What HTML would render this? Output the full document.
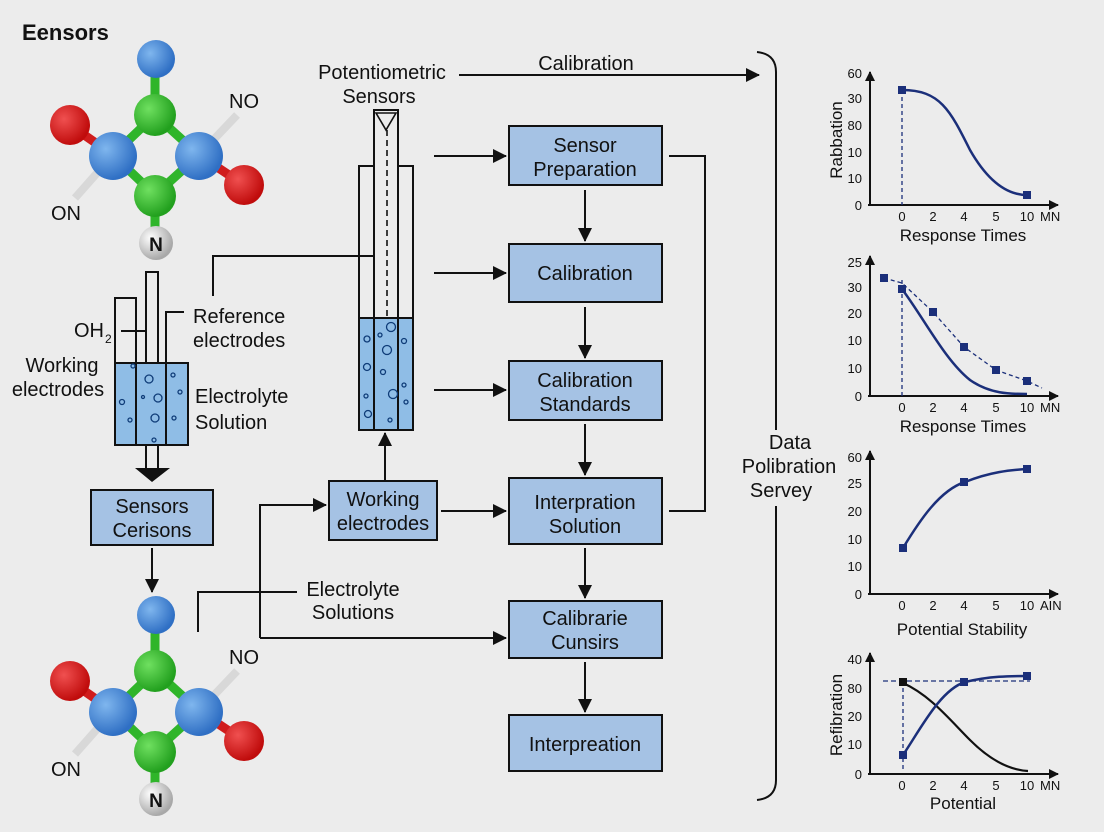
<!DOCTYPE html>
<html><head><meta charset="utf-8"><style>
html,body{margin:0;padding:0;background:#ececec;}
svg{display:block;font-family:"Liberation Sans",sans-serif;}
</style></head><body>
<svg width="1104" height="832" viewBox="0 0 1104 832" xmlns="http://www.w3.org/2000/svg">
<defs>
<marker id="a" markerWidth="10" markerHeight="10" refX="9" refY="5" orient="auto" markerUnits="userSpaceOnUse"><path d="M0,0 L10,5 L0,10Z" fill="#111"/></marker>
<marker id="a2" markerWidth="14" markerHeight="14" refX="13" refY="7" orient="auto" markerUnits="userSpaceOnUse"><path d="M0,0 L14,7 L0,14Z" fill="#111"/></marker>
<radialGradient id="gb" cx="35%" cy="35%" r="65%"><stop offset="0" stop-color="#7fb6ee"/><stop offset="1" stop-color="#2f6fc4"/></radialGradient>
<radialGradient id="gg" cx="35%" cy="35%" r="65%"><stop offset="0" stop-color="#6fe060"/><stop offset="1" stop-color="#22a01e"/></radialGradient>
<radialGradient id="gr" cx="35%" cy="35%" r="65%"><stop offset="0" stop-color="#f05050"/><stop offset="1" stop-color="#c00c0c"/></radialGradient>
<radialGradient id="gw" cx="35%" cy="35%" r="65%"><stop offset="0" stop-color="#ffffff"/><stop offset="1" stop-color="#a8a8a8"/></radialGradient>
<g id="mol">
<line x1="155" y1="58" x2="155" y2="115" stroke="#2fb52a" stroke-width="9"/>
<line x1="155" y1="115" x2="113" y2="155" stroke="#2fb52a" stroke-width="9"/>
<line x1="155" y1="115" x2="199" y2="155" stroke="#2fb52a" stroke-width="9"/>
<line x1="113" y1="155" x2="155" y2="195" stroke="#2fb52a" stroke-width="9"/>
<line x1="199" y1="155" x2="155" y2="195" stroke="#2fb52a" stroke-width="9"/>
<line x1="155" y1="195" x2="155" y2="243" stroke="#2fb52a" stroke-width="9"/>
<line x1="113" y1="155" x2="70" y2="125" stroke="#d01c1c" stroke-width="9"/>
<line x1="199" y1="155" x2="244" y2="185" stroke="#d01c1c" stroke-width="9"/>
<line x1="199" y1="155" x2="237" y2="115" stroke="#d8d8d8" stroke-width="8"/>
<line x1="113" y1="155" x2="75" y2="198" stroke="#d8d8d8" stroke-width="8"/>
<circle cx="156" cy="59" r="19" fill="url(#gb)"/>
<circle cx="70" cy="125" r="20" fill="url(#gr)"/>
<circle cx="244" cy="185" r="20" fill="url(#gr)"/>
<circle cx="155" cy="115" r="21" fill="url(#gg)"/>
<circle cx="155" cy="196" r="21" fill="url(#gg)"/>
<circle cx="113" cy="156" r="24" fill="url(#gb)"/>
<circle cx="199" cy="156" r="24" fill="url(#gb)"/>
<circle cx="156" cy="243" r="17" fill="url(#gw)"/>
<text x="156" y="251" font-size="19" font-weight="bold" text-anchor="middle" fill="#111">N</text>
<text x="244" y="108" font-size="20" text-anchor="middle" fill="#111">NO</text>
<text x="66" y="220" font-size="20" text-anchor="middle" fill="#111">ON</text>
</g>
</defs>

<text x="22" y="40" font-size="22" font-weight="bold" fill="#111">Eensors</text>
<use href="#mol"/>
<use href="#mol" y="556"/>

<g stroke="#111" stroke-width="2" fill="none">
<!-- left electrode -->
<rect x="115" y="298" width="21" height="65"/>
<rect x="146" y="272" width="12" height="91"/>
<polyline points="166,363 166,312 184,312"/>
<line x1="121" y1="331" x2="146" y2="331"/>
<rect x="115" y="363" width="73" height="82" fill="#8fbde6"/>
<line x1="136" y1="363" x2="136" y2="445"/>
<line x1="166" y1="363" x2="166" y2="445"/>
<line x1="146" y1="445" x2="146" y2="468"/>
<line x1="158" y1="445" x2="158" y2="468"/>
<polyline points="213,296 213,256 374,256"/>
<!-- tube -->
<rect x="374" y="110" width="24" height="320"/>
<polyline points="359,430 359,166 374,166"/>
<polyline points="413,430 413,166 398,166"/>
<rect x="359" y="318" width="54" height="112" fill="#8fbde6"/>
<line x1="374" y1="318" x2="374" y2="430"/><line x1="398" y1="318" x2="398" y2="430"/>
<line x1="387" y1="130" x2="387" y2="316" stroke-dasharray="6,4" stroke-width="1.6"/>
<path d="M376,113 L396,113 L386,130Z" stroke-width="1.6"/>
</g>
<path d="M135,468 L170,468 L152,482Z" fill="#111"/>
<g fill="none" stroke="#0f3c78" stroke-width="1.3">
<circle cx="149" cy="379" r="4"/><circle cx="158" cy="398" r="4"/><circle cx="155" cy="418" r="4"/><circle cx="122" cy="402" r="2.5"/><circle cx="133" y="0" cy="366" r="2"/><circle cx="173" cy="375" r="2"/><circle cx="180" cy="392" r="2"/><circle cx="174" cy="418" r="2"/><circle cx="130" cy="420" r="2"/><circle cx="154" cy="440" r="2"/><circle cx="143" cy="397" r="1.5"/>
<circle cx="391" cy="327" r="4.5"/><circle cx="387" cy="350" r="4.5"/><circle cx="393" cy="394" r="4.5"/><circle cx="367" cy="339" r="3"/><circle cx="367" cy="367" r="3.5"/><circle cx="368" cy="414" r="3.5"/><circle cx="404" cy="341" r="2.5"/><circle cx="404" cy="385" r="2"/><circle cx="383" cy="372" r="2.5"/><circle cx="380" cy="335" r="2"/><circle cx="390" cy="420" r="2"/><circle cx="406" cy="402" r="2"/><circle cx="366" cy="396" r="2"/>
</g>

<g font-size="20" fill="#111">
<text x="74" y="337">OH</text><text x="105" y="343" font-size="12">2</text>
<text x="62" y="372" text-anchor="middle">Working</text>
<text x="58" y="396" text-anchor="middle">electrodes</text>
<text x="193" y="323">Reference</text>
<text x="193" y="347">electrodes</text>
<text x="195" y="403">Electrolyte</text>
<text x="195" y="429">Solution</text>
<text x="382" y="79" text-anchor="middle">Potentiometric</text>
<text x="379" y="103" text-anchor="middle">Sensors</text>
<text x="586" y="70" text-anchor="middle">Calibration</text>
<text x="353" y="596" text-anchor="middle">Electrolyte</text>
<text x="353" y="619" text-anchor="middle">Solutions</text>
<text x="790" y="449" text-anchor="middle">Data</text>
<text x="789" y="473" text-anchor="middle">Polibration</text>
<text x="781" y="497" text-anchor="middle">Servey</text>
</g>

<!-- boxes -->
<g stroke="#111" stroke-width="2" fill="#a5c2e4">
<rect x="91" y="490" width="122" height="55"/>
<rect x="329" y="481" width="108" height="59"/>
<rect x="509" y="126" width="153" height="59"/>
<rect x="509" y="244" width="153" height="58"/>
<rect x="509" y="361" width="153" height="59"/>
<rect x="509" y="478" width="153" height="66"/>
<rect x="509" y="601" width="153" height="57"/>
<rect x="509" y="715" width="153" height="56"/>
</g>
<g font-size="20" fill="#111" text-anchor="middle">
<text x="152" y="513">Sensors</text><text x="152" y="537">Cerisons</text>
<text x="383" y="506">Working</text><text x="383" y="530">electrodes</text>
<text x="585" y="152">Sensor</text><text x="585" y="176">Preparation</text>
<text x="585" y="280">Calibration</text>
<text x="585" y="387">Calibration</text><text x="585" y="411">Standards</text>
<text x="585" y="509">Interpration</text><text x="585" y="533">Solution</text>
<text x="585" y="625">Calibrarie</text><text x="585" y="649">Cunsirs</text>
<text x="585" y="751">Interpreation</text>
</g>

<g stroke="#111" stroke-width="2" fill="none">
<line x1="459" y1="75" x2="759" y2="75" marker-end="url(#a2)"/>
<line x1="434" y1="156" x2="506" y2="156" marker-end="url(#a2)"/>
<line x1="434" y1="273" x2="506" y2="273" marker-end="url(#a2)"/>
<line x1="434" y1="390" x2="506" y2="390" marker-end="url(#a2)"/>
<line x1="441" y1="511" x2="506" y2="511" marker-end="url(#a2)"/>
<polyline points="260,638 260,505 326,505" marker-end="url(#a2)"/>
<line x1="260" y1="638" x2="506" y2="638" marker-end="url(#a2)"/>
<polyline points="198,632 198,592 297,592"/>
<line x1="385" y1="480" x2="385" y2="433" marker-end="url(#a2)"/>
<line x1="152" y1="548" x2="152" y2="592" marker-end="url(#a2)"/>
<line x1="585" y1="190" x2="585" y2="241" marker-end="url(#a2)"/>
<line x1="585" y1="307" x2="585" y2="358" marker-end="url(#a2)"/>
<line x1="585" y1="424" x2="585" y2="475" marker-end="url(#a2)"/>
<line x1="585" y1="548" x2="585" y2="598" marker-end="url(#a2)"/>
<line x1="585" y1="662" x2="585" y2="712" marker-end="url(#a2)"/>
<polyline points="669,156 705,156 705,511 669,511"/>
<path d="M757,52 Q776,54 776,72 L776,430"/>
<path d="M776,506 L776,780 Q776,798 757,800"/>
</g>

<!-- charts -->
<g font-size="13" fill="#111">
<!-- chart1 -->
<g stroke="#111" stroke-width="2" fill="none">
<line x1="870" y1="205" x2="870" y2="72" marker-end="url(#a)"/>
<line x1="868" y1="205" x2="1058" y2="205" marker-end="url(#a)"/>
</g>
<text x="862" y="78" text-anchor="end">60</text><text x="862" y="103" text-anchor="end">30</text><text x="862" y="130" text-anchor="end">80</text><text x="862" y="157" text-anchor="end">10</text><text x="862" y="183" text-anchor="end">10</text><text x="862" y="210" text-anchor="end">0</text>
<g text-anchor="middle"><text x="902" y="221">0</text><text x="933" y="221">2</text><text x="964" y="221">4</text><text x="996" y="221">5</text><text x="1027" y="221">10</text></g><text x="1040" y="221">MN</text>
<text x="963" y="241" font-size="17" text-anchor="middle">Response Times</text>
<text transform="translate(842,140) rotate(-90)" font-size="17" text-anchor="middle">Rabbation</text>
<line x1="902" y1="90" x2="902" y2="205" stroke="#1b2f7a" stroke-width="1.3" stroke-dasharray="4,3"/>
<path d="M902,90 C940,90 950,110 970,150 C990,185 1010,195 1027,195" stroke="#1b2f7a" stroke-width="2.5" fill="none"/>
<rect x="898" y="86" width="8" height="8" fill="#1b2f7a"/><rect x="1023" y="191" width="8" height="8" fill="#1b2f7a"/>

<!-- chart2 -->
<g stroke="#111" stroke-width="2" fill="none">
<line x1="870" y1="396" x2="870" y2="256" marker-end="url(#a)"/>
<line x1="868" y1="396" x2="1058" y2="396" marker-end="url(#a)"/>
</g>
<text x="862" y="267" text-anchor="end">25</text><text x="862" y="292" text-anchor="end">30</text><text x="862" y="318" text-anchor="end">20</text><text x="862" y="345" text-anchor="end">10</text><text x="862" y="373" text-anchor="end">10</text><text x="862" y="401" text-anchor="end">0</text>
<g text-anchor="middle"><text x="902" y="412">0</text><text x="933" y="412">2</text><text x="964" y="412">4</text><text x="996" y="412">5</text><text x="1027" y="412">10</text></g><text x="1040" y="412">MN</text>
<text x="963" y="432" font-size="17" text-anchor="middle">Response Times</text>
<line x1="902" y1="280" x2="902" y2="396" stroke="#1b2f7a" stroke-width="1.3" stroke-dasharray="4,3"/>
<path d="M884,278 L902,283 L933,312 L964,347 L996,370 L1027,381 L1042,388" stroke="#1b2f7a" stroke-width="1.3" stroke-dasharray="4,3" fill="none"/>
<path d="M902,289 C925,320 945,360 970,380 C990,394 1010,394 1027,394" stroke="#1b2f7a" stroke-width="2.5" fill="none"/>
<g fill="#1b2f7a"><rect x="880" y="274" width="8" height="8"/><rect x="898" y="285" width="8" height="8"/><rect x="929" y="308" width="8" height="8"/><rect x="960" y="343" width="8" height="8"/><rect x="992" y="366" width="8" height="8"/><rect x="1023" y="377" width="8" height="8"/></g>

<!-- chart3 -->
<g stroke="#111" stroke-width="2" fill="none">
<line x1="870" y1="594" x2="870" y2="451" marker-end="url(#a)"/>
<line x1="868" y1="594" x2="1058" y2="594" marker-end="url(#a)"/>
</g>
<text x="862" y="462" text-anchor="end">60</text><text x="862" y="488" text-anchor="end">25</text><text x="862" y="516" text-anchor="end">20</text><text x="862" y="544" text-anchor="end">10</text><text x="862" y="571" text-anchor="end">10</text><text x="862" y="599" text-anchor="end">0</text>
<g text-anchor="middle"><text x="902" y="610">0</text><text x="933" y="610">2</text><text x="964" y="610">4</text><text x="996" y="610">5</text><text x="1027" y="610">10</text></g><text x="1040" y="610">AIN</text>
<text x="962" y="635" font-size="17" text-anchor="middle">Potential Stability</text>
<path d="M903,548 C920,520 940,490 965,482 C990,472 1010,470 1027,469" stroke="#1b2f7a" stroke-width="2.5" fill="none"/>
<g fill="#1b2f7a"><rect x="899" y="544" width="8" height="8"/><rect x="960" y="478" width="8" height="8"/><rect x="1023" y="465" width="8" height="8"/></g>

<!-- chart4 -->
<g stroke="#111" stroke-width="2" fill="none">
<line x1="870" y1="774" x2="870" y2="653" marker-end="url(#a)"/>
<line x1="868" y1="774" x2="1058" y2="774" marker-end="url(#a)"/>
</g>
<text x="862" y="664" text-anchor="end">40</text><text x="862" y="693" text-anchor="end">80</text><text x="862" y="721" text-anchor="end">20</text><text x="862" y="749" text-anchor="end">10</text><text x="862" y="779" text-anchor="end">0</text>
<g text-anchor="middle"><text x="902" y="790">0</text><text x="933" y="790">2</text><text x="964" y="790">4</text><text x="996" y="790">5</text><text x="1027" y="790">10</text></g><text x="1040" y="790">MN</text>
<text x="963" y="809" font-size="17" text-anchor="middle">Potential</text>
<text transform="translate(842,715) rotate(-90)" font-size="17" text-anchor="middle">Refibration</text>
<line x1="883" y1="681" x2="1030" y2="681" stroke="#1b2f7a" stroke-width="1.3" stroke-dasharray="5,3"/>
<line x1="903" y1="681" x2="903" y2="770" stroke="#1b2f7a" stroke-width="1.3" stroke-dasharray="4,3"/>
<path d="M903,683 C930,695 950,720 970,740 C990,760 1010,770 1028,771" stroke="#111" stroke-width="2.2" fill="none"/>
<path d="M903,755 C920,730 940,690 965,682 C990,676 1010,676 1027,676" stroke="#1b2f7a" stroke-width="2.5" fill="none"/>
<rect x="899" y="678" width="8" height="8" fill="#111"/>
<g fill="#1b2f7a"><rect x="899" y="751" width="8" height="8"/><rect x="960" y="678" width="8" height="8"/><rect x="1023" y="672" width="8" height="8"/></g>
</g>
</svg>
</body></html>
